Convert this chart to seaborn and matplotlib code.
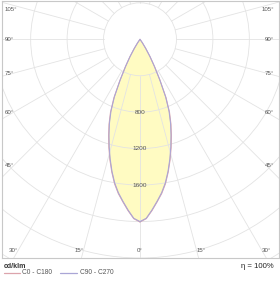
import numpy as np
import pandas as pd
import matplotlib
matplotlib.use("Agg")
import matplotlib.pyplot as plt
from matplotlib.patches import Circle
from matplotlib.lines import Line2D
import seaborn as sns

sns.set_style("white")
plt.rcParams['font.family'] = ['Liberation Sans', 'DejaVu Sans']

# ---- data (cd/klm vs gamma angle) ----
gamma = [0, 2, 4, 6, 8, 10, 12, 14, 16, 18, 20, 22, 24, 26, 28, 30, 32, 34, 36]
c0_c180 = [2005, 1970, 1885, 1795, 1710, 1610, 1490, 1365, 1240, 1115, 995, 865, 705, 505, 345, 225, 122, 50, 0]
c90_c270 = [2000, 1965, 1878, 1788, 1701, 1600, 1480, 1353, 1226, 1100, 980, 850, 690, 492, 334, 216, 116, 46, 0]
ring_values = [400, 800, 1200, 1600, 2000, 2400, 2800, 3200]
ring_labels = [800, 1200, 1600]
angle_labels = [0, 15, 30, 45, 60, 75, 90, 105]
series_names = ["C0 - C180", "C90 - C270"]
series_colors = ["#dca4ac", "#aaa6d6"]
efficiency = "η = 100%"
unit = "cd/klm"

XL, XR, YB, YT = -1520, 1520, -2400, 420

def to_xy(g, I, side):
    t = np.radians(g)
    return side * I * np.sin(t), -I * np.cos(t)

def closed_curve(vals):
    xs, ys = [], []
    for g, I in zip(gamma, vals):
        x, y = to_xy(g, I, 1)
        xs.append(x); ys.append(y)
    for g, I in zip(gamma[::-1], vals[::-1]):
        x, y = to_xy(g, I, -1)
        xs.append(x); ys.append(y)
    return pd.DataFrame({"x": xs, "y": ys, "order": range(len(xs))})

fig = plt.figure(figsize=(2.8, 2.81), dpi=100)
ax = fig.add_axes([1.5 / 280, 23 / 281, 277 / 280, 257 / 281])
ax.set_xlim(XL, XR)
ax.set_ylim(YB, YT)

# fill
df0 = closed_curve(c0_c180)
ax.fill(df0["x"], df0["y"], color="#fffbc2", zorder=1, lw=0)

# grid
gc = "#e3e3e3"
for r in ring_values:
    ax.add_patch(Circle((0, 0), r, fill=False, ec=gc, lw=0.6, zorder=2))
for a in range(0, 360, 15):
    t = np.radians(a)
    ax.plot([400 * np.sin(t), 4000 * np.sin(t)], [-400 * np.cos(t), -4000 * np.cos(t)],
            color=gc, lw=0.6, zorder=2)

# curves
for vals, col in zip([c0_c180, c90_c270], series_colors):
    df = closed_curve(vals)
    sns.lineplot(data=df, x="x", y="y", sort=False, estimator=None, color=col,
                 lw=0.75, ax=ax, zorder=3)

# ring labels
for v in ring_labels:
    ax.text(0, -v, str(v), ha="center", va="center", fontsize=4.6, color="#555555", zorder=4)

# angle labels
xin = XR - 130
ybot_lab = YB + 77
for a in angle_labels:
    t = np.radians(a)
    sides = [1] if a == 0 else [-1, 1]
    for s in sides:
        dx, dy = np.sin(t), -np.cos(t)
        if a == 0:
            ax.text(0, ybot_lab, "0°", ha="center", va="center", fontsize=4.4, color="#555555")
            continue
        y_at = xin * dy / dx
        if y_at >= ybot_lab:
            y_at = min(y_at, YT - 90)
            if s < 0:
                ax.text(XL + 35, y_at, f"{a}°", ha="left", va="center", fontsize=4.4, color="#555555")
            else:
                ax.text(XR - 50, y_at, f"{a}°", ha="right", va="center", fontsize=4.4, color="#555555")
        else:
            x_at = ybot_lab / dy * dx
            ax.text(s * x_at, ybot_lab, f"{a}°", ha="left" if s > 0 else "right",
                    va="center", fontsize=4.4, color="#555555")

ax.set_xticks([]); ax.set_yticks([])
ax.set_xlabel(""); ax.set_ylabel("")
for sp in ax.spines.values():
    sp.set_visible(True)
    sp.set_color("#c8c8c8")
    sp.set_linewidth(0.8)

# legend area
H = 281; W = 280
fig.text(4 / W, 1 - 266 / H, unit, ha="left", va="center", fontsize=5, weight="bold", color="#333333")
fig.add_artist(Line2D([4 / W, 20 / W], [1 - 273 / H, 1 - 273 / H], color=series_colors[0], lw=0.9))
fig.text(22 / W, 1 - 273 / H, series_names[0], ha="left", va="center", fontsize=4.8, color="#555555")
fig.add_artist(Line2D([60 / W, 77 / W], [1 - 273 / H, 1 - 273 / H], color=series_colors[1], lw=0.9))
fig.text(80 / W, 1 - 273 / H, series_names[1], ha="left", va="center", fontsize=4.8, color="#555555")
fig.text(274 / W, 1 - 266 / H, efficiency, ha="right", va="center", fontsize=5.6, color="#222222")

fig.savefig("out.png", dpi=100)
